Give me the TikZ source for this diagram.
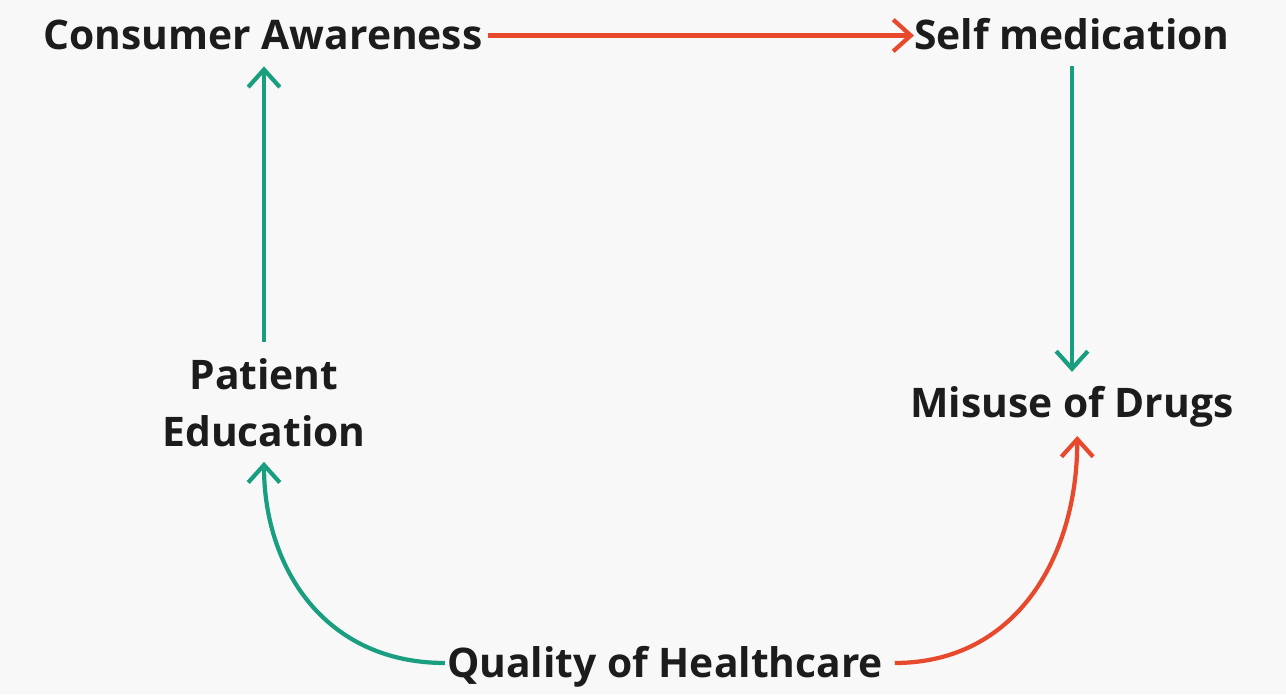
\documentclass[tikz,border=0pt]{standalone}
\usepackage{fontspec}
\setmainfont{Open Sans}
\usepackage{tikz}
\usetikzlibrary{positioning,arrows.meta}

\definecolor{linkgreen}{HTML}{1A9E80}
\definecolor{linkred}{HTML}{E8482C}
\definecolor{paper}{HTML}{F8F8F8}
\definecolor{ink}{HTML}{1C1C1C}

\begin{document}
\begin{tikzpicture}[x=0.02cm,y=-0.02cm]
    \tikzstyle{factor} = [font=\fontsize{23.2}{32.3}\selectfont\bfseries, text=ink, align=center, inner sep=0pt]
    \tikzstyle{oneline} = [factor, text height=17pt, text depth=5pt]
    \tikzstyle{link} = [line width=2.4pt, -{Straight Barb[length=10pt,width=18pt,line width=2.4pt]}]
    \tikzstyle{plus} = [link, draw=linkgreen]
    \tikzstyle{minus} = [link, draw=linkred]
    \fill[paper] (0,0) rectangle (1286,694);
    \useasboundingbox (0,0) rectangle (1286,694);
    % factors
    \node[oneline] (aware) at (263,39) {Consumer Awareness};
    \node[oneline] (selfmed) at (1072,39) {Self medication};
    \node[factor] (educ) at (264,403) {Patient\\Education};
    \node[oneline] (misuse) at (1072,406.5) {Misuse of Drugs};
    \node[oneline] (quality) at (665,666.5) {Quality of Healthcare};
    % links
    \draw[minus, shorten <=3pt] ([yshift=2pt]aware.east) -- ([yshift=2pt]selfmed.west);
    \draw[plus, shorten <=9.7pt, shorten >=4.4pt] (educ.north) -- (educ.north |- aware.south);
    \draw[plus, shorten <=4.4pt, shorten >=8.5pt] (selfmed.south) -- (misuse.north);
    \draw[plus, shorten <=1pt, shorten >=8.2pt] ([yshift=2pt]quality.west) to[out=180,in=-90,looseness=1.1] (educ.south);
    \draw[minus, shorten <=6.5pt, shorten >=5.6pt] ([yshift=2pt]quality.east) to[out=0,in=-90,looseness=1.1] ([xshift=3pt]misuse.south);
\end{tikzpicture}
\end{document}
